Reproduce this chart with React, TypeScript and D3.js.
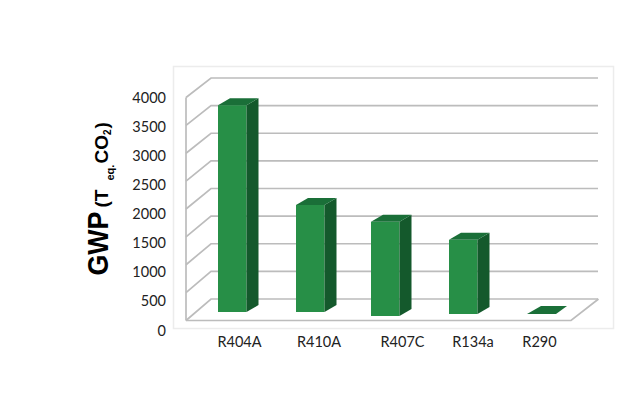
import React from "react";
import * as d3 from "d3";

const categories = ["R404A", "R410A", "R407C", "R134a", "R290"];
const gwpValues = [3710, 1920, 1690, 1330, 0];
const yTicks = [0, 500, 1000, 1500, 2000, 2500, 3000, 3500, 4000];

const barLeft = [218, 296, 371, 449, 527];
const barBase = [312, 312, 316, 314, 314];
const labelX = [239.5, 319, 402.5, 473, 539.5];
const labelFont = "Lato, 'Open Sans', sans-serif";
const titleFont = "'Liberation Sans', Arial, sans-serif";

export default function App() {
  const front = d3.scaleLinear().domain([0, 4000]).range([320.5, 97.5]);
  const back = d3.scaleLinear().domain([0, 4000]).range([299, 78]);
  const labelY = d3.scaleLinear().domain([0, 4000]).range([330, 97.5]);
  const h = d3.scaleLinear().domain([0, 4000]).range([0, 223]);
  const gridColor = "#bcbcbc";
  const barW = 28.5;
  const dx = 12;
  const dy = 7;
  const poly = (pts: number[][]) => pts.map((p) => p.join(",")).join(" ");

  return (
    <svg width={620} height={413} style={{ position: "absolute", left: 0, top: 0 }}>
      <rect x={173.5} y={66.5} width={440} height={262} fill="#fff" stroke="#ececec" strokeWidth={1.5} />
      <polyline points={poly([[186, front(0)], [186, front(4000)]])} fill="none" stroke={gridColor} strokeWidth={1.7} />
      {yTicks.map((t) => (
        <polyline
          key={t}
          points={poly([[186, front(t)], [211, back(t)], [598, back(t)]])}
          fill="none"
          stroke={gridColor}
          strokeWidth={1.7}
        />
      ))}
      <polyline
        points={poly([[186, front(0)], [571, front(0)], [598.5, back(0)]])}
        fill="none"
        stroke={gridColor}
        strokeWidth={1.7}
      />
      {categories.map((c, i) => {
        const x = barLeft[i];
        const b = barBase[i];
        const t = b - h(gwpValues[i]);
        if (gwpValues[i] === 0) {
          return (
            <polygon
              key={c}
              points={poly([[x, b], [x + 14, b - 8], [x + 40, b - 8], [x + 29, b]])}
              fill="#1a6f38"
            />
          );
        }
        return (
          <g key={c}>
            <rect x={x} y={t} width={barW} height={b - t} fill="#278f47" />
            <polygon
              points={poly([[x + barW, t], [x + barW + dx, t - dy], [x + barW + dx, b - dy], [x + barW, b]])}
              fill="#14592c"
            />
            <polygon
              points={poly([[x, t], [x + dx, t - dy], [x + barW + dx, t - dy], [x + barW, t]])}
              fill="#1a6f38"
            />
          </g>
        );
      })}
      {yTicks.map((t) => (
        <text
          key={t}
          x={166}
          y={labelY(t) + 5.5}
          textAnchor="end"
          fontFamily={labelFont}
          fontSize={14.5}
          fill="#222"
        >
          {t}
        </text>
      ))}
      {categories.map((c, i) => (
        <text
          key={c}
          x={labelX[i]}
          y={347}
          textAnchor="middle"
          fontFamily={labelFont}
          fontSize={14.5}
          fill="#222"
        >
          {c}
        </text>
      ))}
      <g transform="translate(108,275.5) rotate(-90)" fontFamily={titleFont} fontWeight="bold" fill="#000">
        <text fontSize={29} textLength={64} lengthAdjust="spacingAndGlyphs">GWP</text>
        <text>
          <tspan fontSize={19} x={68}>(T</tspan>
          <tspan fontSize={11} x={95} dy={6}>eq.</tspan>
          <tspan fontSize={19} x={112} dy={-6}>CO</tspan>
          <tspan fontSize={10} dy={3}>2</tspan>
          <tspan fontSize={19} dy={-3} dx={1}>)</tspan>
        </text>
      </g>
    </svg>
  );
}
